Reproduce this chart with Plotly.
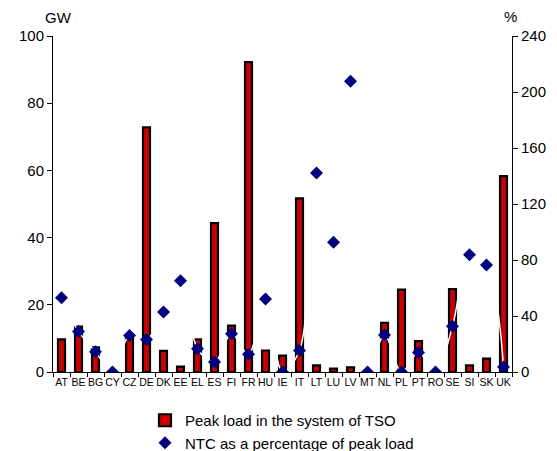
import plotly.graph_objects as go

countries = ["AT","BE","BG","CY","CZ","DE","DK","EE","EL","ES","FI","FR","HU","IE",
             "IT","LT","LU","LV","MT","NL","PL","PT","RO","SE","SI","SK","UK"]
peak_load_gw = [9.7, 13.5, 7.3, 0, 10.8, 72.8, 6.3, 1.6, 9.7, 44.3, 13.8, 92.2, 6.4, 4.9,
                51.7, 2.0, 1.0, 1.4, 0, 14.6, 24.5, 9.2, 0, 24.7, 2.0, 4.0, 58.3]
ntc_pct = [53.1, 29.0, 14.5, 0, 26.1, 23.3, 42.9, 65.2, 16.6, 7.1, 27.4, 12.6, 52.1, 0,
           15.4, 142.2, 92.6, 207.6, 0, 26.4, 0, 14.0, 0, 32.6, 83.8, 76.4, 3.6]

font = "Liberation Sans, Arial, sans-serif"
# page has an 8px body margin; figure coordinates = page coordinates - 8
W, H = 549, 443
L, T = 45, 28
plot_right, plot_bottom = 504, 364
R, B = W - plot_right, H - plot_bottom
pw, ph = W - L - R, H - T - B

fig = go.Figure()
fig.add_trace(go.Bar(
    x=countries, y=peak_load_gw, name="Peak load in the system of TSO",
    marker=dict(color="#CC0000", line=dict(color="black", width=2.2)),
    yaxis="y",
))
fig.add_trace(go.Scatter(
    x=countries, y=ntc_pct, name="NTC as a percentage of peak load",
    mode="lines+markers",
    line=dict(color="white", width=1.5, shape="spline"),
    marker=dict(symbol="diamond", size=10, color="#000080"),
    yaxis="y2",
))

fig.update_layout(
    width=W, height=H,
    margin=dict(l=L, r=R, t=T, b=B, autoexpand=False),
    paper_bgcolor="white", plot_bgcolor="white",
    font=dict(family=font, size=15, color="black"),
    bargap=0.59,
    showlegend=True,
    legend=dict(x=(137 - L) / pw, xanchor="left", y=(H - 396) / H, yref="container",
                yanchor="top", orientation="v", font=dict(size=15), tracegroupgap=0,
                bgcolor="rgba(0,0,0,0)"),
    xaxis=dict(range=[-0.5, len(countries) - 0.5], showline=True, linecolor="black", linewidth=1,
               ticks="outside", tickson="boundaries", ticklen=4, tickcolor="black",
               tickfont=dict(size=10.5), showgrid=False, tickangle=0),
    yaxis=dict(range=[0, 100], dtick=20, showline=True, linecolor="black", linewidth=1,
               ticks="outside", ticklen=5, tickcolor="black", showgrid=False,
               zeroline=False, tickfont=dict(size=15)),
    yaxis2=dict(range=[0, 240], dtick=40, overlaying="y", side="right",
                showline=True, linecolor="black", linewidth=1,
                ticks="outside", ticklen=5, tickcolor="black", showgrid=False,
                zeroline=False, tickfont=dict(size=15)),
)
fig.add_annotation(text="GW", x=(50 - L) / pw, y=1 + (T - 10) / ph, xref="paper", yref="paper",
                   showarrow=False, xanchor="center", yanchor="middle", font=dict(size=15))
fig.add_annotation(text="%", x=(502 - L) / pw, y=1 + (T - 9) / ph, xref="paper", yref="paper",
                   showarrow=False, xanchor="center", yanchor="middle", font=dict(size=15))

fig.write_html("out.html")
